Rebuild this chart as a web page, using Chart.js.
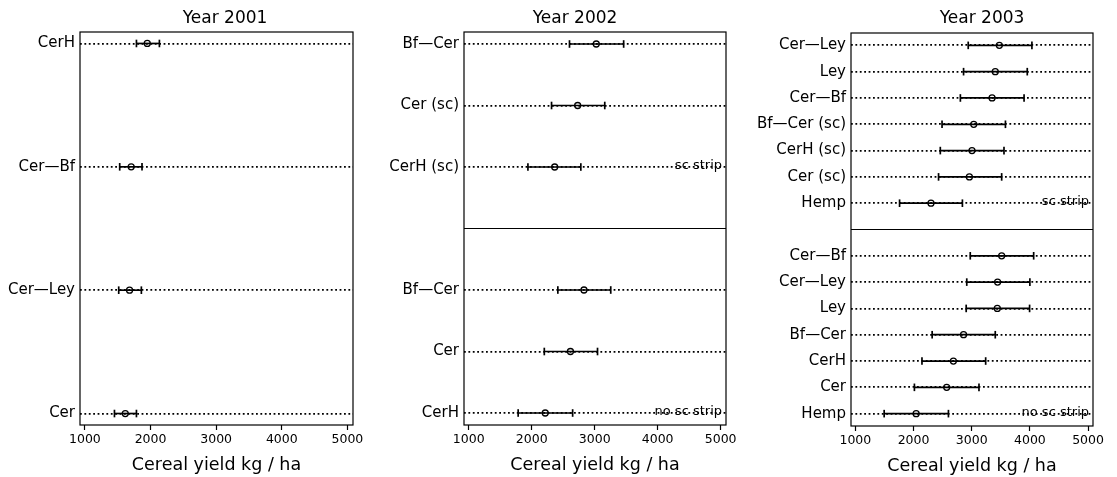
<!DOCTYPE html>
<html>
<head>
<meta charset="utf-8">
<script src="https://cdn.jsdelivr.net/npm/chart.js@4.4.1/dist/chart.umd.min.js"></script>
<style>
    html, body { margin: 0; padding: 0; background: #fff; }
    body { width: 1117px; height: 477px; position: relative; overflow: hidden; font-family: 'DejaVu Sans', sans-serif; }
    .panel { position: absolute; top: 0; height: 477px; }
    .ptitle { position: absolute; top: 7px; font-size: 17px; line-height: 20px; transform: translateX(-50%); white-space: nowrap; color: #000; }
</style>
</head>
<body>
<div class="panel" style="left:0;width:370px"><canvas id="c2001"></canvas></div>
<div class="panel" style="left:370px;width:370px"><canvas id="c2002"></canvas></div>
<div class="panel" style="left:740px;width:377px"><canvas id="c2003"></canvas></div>
<div class="ptitle" style="left:225px">Year 2001</div>
<div class="ptitle" style="left:575px">Year 2002</div>
<div class="ptitle" style="left:982px">Year 2003</div>

<script>
// ==================== DATA (cereal yield, kg / ha) ====================
const xTicks = [1000, 2000, 3000, 4000, 5000];
const xMin = 925;
const xMax = 5085;

// Year 2001
const labels2001 = ['CerH', 'Cer—Bf', 'Cer—Ley', 'Cer'];
const mean2001 = [1950, 1705, 1680, 1615];
const low2001 = [1785, 1530, 1515, 1450];
const high2001 = [2135, 1870, 1860, 1785];

// Year 2002, sc strip
const labels2002sc = ['Bf—Cer', 'Cer (sc)', 'CerH (sc)'];
const mean2002sc = [3025, 2730, 2365];
const low2002sc = [2600, 2315, 1940];
const high2002sc = [3460, 3160, 2780];

// Year 2002, no sc strip
const labels2002no = ['Bf—Cer', 'Cer', 'CerH'];
const mean2002no = [2830, 2615, 2215];
const low2002no = [2415, 2200, 1785];
const high2002no = [3255, 3045, 2650];

// Year 2003, sc strip
const labels2003sc = ['Cer—Ley', 'Ley', 'Cer—Bf', 'Bf—Cer (sc)', 'CerH (sc)', 'Cer (sc)', 'Hemp'];
const mean2003sc = [3475, 3405, 3350, 3035, 3005, 2960, 2300];
const low2003sc = [2940, 2860, 2805, 2490, 2460, 2430, 1760];
const high2003sc = [4035, 3955, 3900, 3580, 3555, 3515, 2840];

// Year 2003, no sc strip
const labels2003no = ['Cer—Bf', 'Cer—Ley', 'Ley', 'Bf—Cer', 'CerH', 'Cer', 'Hemp'];
const mean2003no = [3515, 3445, 3440, 2860, 2685, 2570, 2045];
const low2003no = [2975, 2915, 2905, 2320, 2145, 2015, 1495];
const high2003no = [4065, 4000, 3995, 3405, 3240, 3125, 2600];

const FONT = "'DejaVu Sans', sans-serif";

// ==================== PLUGINS ====================
const framePlugin = {
    id: 'frame',
    afterDraw(chart) {
        const { ctx, chartArea: a } = chart;
        ctx.save();
        ctx.strokeStyle = '#000';
        ctx.lineWidth = 1.2;
        ctx.strokeRect(a.left, a.top, a.right - a.left, a.bottom - a.top);
        ctx.restore();
    }
};

const notesPlugin = {
    id: 'groupNotes',
    afterDatasetsDraw(chart, args, opts) {
        const notes = opts.notes || [];
        const { ctx, chartArea: a, scales } = chart;
        ctx.save();
        ctx.font = '13px ' + FONT;
        ctx.fillStyle = '#000';
        ctx.textAlign = 'right';
        ctx.textBaseline = 'alphabetic';
        notes.forEach(n => ctx.fillText(n.text, a.right - 4, scales.y.getPixelForValue(n.pos) + 2));
        ctx.restore();
    }
};

// ==================== PANELS ====================
function drawPanel(id, groups, o) {
    const rows = [];
    const seps = [];
    const notes = [];
    let pos = 0;
    groups.forEach((g, gi) => {
        if (gi > 0) { seps.push(pos); pos++; }
        g.labels.forEach((lab, i) => {
            rows.push({ pos, label: lab, mean: g.mean[i], low: g.low[i], high: g.high[i] });
            pos++;
        });
        if (g.note) notes.push({ text: g.note, pos: pos - 1 });
    });
    const last = pos - 1;
    const nameAt = {};
    rows.forEach(r => nameAt[r.pos] = r.label);

    const datasets = [];
    // solid line between the two strip groups
    seps.forEach(s => datasets.push({
        data: [{ x: xMin, y: s }, { x: xMax, y: s }],
        showLine: true, borderColor: '#000', borderWidth: 1.2, pointRadius: 0
    }));
    // error bars
    rows.forEach(r => datasets.push({
        data: [{ x: r.low, y: r.pos }, { x: r.high, y: r.pos }],
        showLine: true, borderColor: '#000', borderWidth: 1.7,
        pointStyle: 'line', pointRotation: 90, pointRadius: 3.8,
        pointBorderWidth: 1.7, pointBorderColor: '#000'
    }));
    // means
    datasets.push({
        data: rows.map(r => ({ x: r.mean, y: r.pos })),
        showLine: false, pointStyle: 'circle', pointRadius: 3,
        pointBorderWidth: 1.3, pointBorderColor: '#000', pointBackgroundColor: 'rgba(0,0,0,0)'
    });

    new Chart(document.getElementById(id), {
        type: 'scatter',
        data: { datasets },
        plugins: [framePlugin, notesPlugin],
        options: {
            responsive: true,
            maintainAspectRatio: false,
            animation: false,
            events: [],
            layout: { padding: { left: 0, right: o.padR, top: o.padT, bottom: o.padB } },
            plugins: {
                legend: { display: false },
                tooltip: { enabled: false },
                title: { display: false },
                groupNotes: { notes }
            },
            scales: {
                x: {
                    type: 'linear',
                    min: xMin,
                    max: xMax,
                    afterBuildTicks: s => { s.ticks = xTicks.map(v => ({ value: v })); },
                    ticks: {
                        callback: v => String(v),
                        font: { family: FONT, size: 12.5 }, color: '#000', padding: 2, maxRotation: 0, autoSkip: false
                    },
                    grid: { drawOnChartArea: false, drawTicks: true, tickLength: 5, tickColor: '#000', tickWidth: 1.2 },
                    border: { display: false },
                    title: {
                        display: true,
                        text: 'Cereal yield kg / ha',
                        color: '#000',
                        font: { family: FONT, size: 17.5 },
                        padding: { top: 6, bottom: 0 }
                    }
                },
                y: {
                    type: 'linear',
                    reverse: true,
                    min: -o.padY,
                    max: last + o.padY,
                    afterBuildTicks: s => { s.ticks = rows.map(r => ({ value: r.pos })); },
                    afterFit: s => { s.width = o.axisWidth; },
                    ticks: { callback: v => nameAt[v], font: { family: FONT, size: 15 }, color: '#000', padding: 5, autoSkip: false },
                    grid: { color: '#000', lineWidth: 1.8, drawTicks: false },
                    border: { display: false, dash: [1.8, 2.6] }
                }
            }
        }
    });
}

drawPanel('c2001', [
    { labels: labels2001, mean: mean2001, low: low2001, high: high2001 }
], { axisWidth: 80, padR: 17, padT: 32, padB: 1, padY: 0.093 });

drawPanel('c2002', [
    { labels: labels2002sc, mean: mean2002sc, low: low2002sc, high: high2002sc, note: 'sc strip' },
    { labels: labels2002no, mean: mean2002no, low: low2002no, high: high2002no, note: 'no sc strip' }
], { axisWidth: 94, padR: 14, padT: 32, padB: 1, padY: 0.195 });

drawPanel('c2003', [
    { labels: labels2003sc, mean: mean2003sc, low: low2003sc, high: high2003sc, note: 'sc strip' },
    { labels: labels2003no, mean: mean2003no, low: low2003no, high: high2003no, note: 'no sc strip' }
], { axisWidth: 111, padR: 24, padT: 33, padB: 0, padY: 0.47 });
</script>
</body>
</html>
